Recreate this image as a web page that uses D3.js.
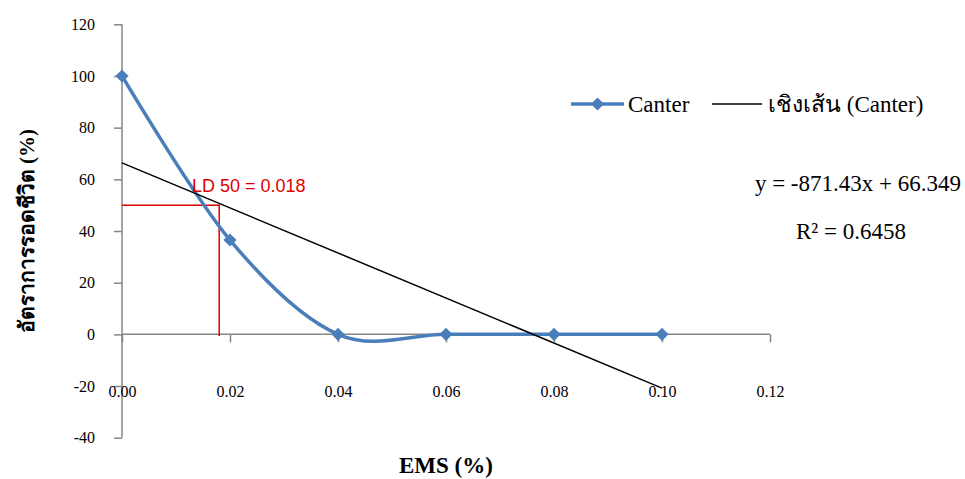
<!DOCTYPE html>
<html><head><meta charset="utf-8">
<script src="https://cdn.jsdelivr.net/npm/d3@7"></script>
<style>
html,body{margin:0;padding:0;background:#fff;}
svg{display:block;}
</style>
</head><body>
<svg id="c" width="965" height="479"></svg>
<script>
const xValues = [0, 0.02, 0.04, 0.06, 0.08, 0.10];
const survival = [100, 36.5, 0, 0, 0, 0];
const xTicks = [0, 0.02, 0.04, 0.06, 0.08, 0.10, 0.12];
const yTicks = [-40, -20, 0, 20, 40, 60, 80, 100, 120];
const slope = -871.43, intercept = 66.349;
const trendRange = [0, 0.10];
const ld50 = 0.018, ldLevel = 50;
const seriesName = "Canter";
const trendName = "เชิงเส้น (Canter)";
const eqText = "y = -871.43x + 66.349";
const r2Text = "R² = 0.6458";
const ldText = "LD 50 = 0.018";
const xTitle = "EMS (%)";
const yTitle = "อัตราการรอดชีวิต (%)";

const svg = d3.select("#c");
const x = d3.scaleLinear().domain([0, 0.12]).range([122, 770]);
const y = d3.scaleLinear().domain([-40, 120]).range([437.7, 24.3]);
const axisColor = "#868686";
const blue = "#4A7EBB";
const serif = "'Liberation Serif','Times New Roman',serif";

// Y axis
const yAxis = svg.append("g").attr("transform", `translate(${x(0)},0)`)
  .call(d3.axisLeft(y).tickValues(yTicks).tickSize(8).tickPadding(19).tickFormat(d => String(d)));
yAxis.select(".domain").attr("stroke", axisColor).attr("stroke-width", 1.5).attr("d", `M0,${y(-40)}V${y(120)}`);
yAxis.selectAll(".tick line").attr("stroke", axisColor).attr("stroke-width", 1.5);
yAxis.selectAll(".tick text").attr("font-family", serif).attr("font-size", 16).attr("fill", "#000");

// X axis at y=0
const xAxis = svg.append("g").attr("transform", `translate(0,${y(0)})`)
  .call(d3.axisBottom(x).tickValues(xTicks).tickSize(8).tickPadding(43).tickFormat(d => d.toFixed(2)));
xAxis.select(".domain").attr("stroke", axisColor).attr("stroke-width", 1.5).attr("d", `M${x(0)},0H${x(0.12)}`);
xAxis.selectAll(".tick line").attr("stroke", axisColor).attr("stroke-width", 1.5);
xAxis.selectAll(".tick text").attr("font-family", serif).attr("font-size", 16).attr("fill", "#000");

// LD50 guide lines
svg.append("path")
  .attr("d", `M${x(0)},${y(ldLevel)}H${x(ld50)}V${y(-0.6)}`)
  .attr("fill", "none").attr("stroke", "#E00000").attr("stroke-width", 1.5);

// Series line (smoothed)
const line = d3.line().x((d, i) => x(xValues[i])).y(d => y(d)).curve(d3.curveCatmullRom.alpha(0));
svg.append("path").datum(survival).attr("d", line)
  .attr("fill", "none").attr("stroke", blue).attr("stroke-width", 3.5).attr("stroke-linejoin", "round");

const diamond = d3.symbol().type(d3.symbolDiamond2).size(110);
svg.selectAll(".pt").data(survival).join("path").attr("class", "pt")
  .attr("transform", (d, i) => `translate(${x(xValues[i])},${y(d)})`)
  .attr("d", diamond).attr("fill", blue);

// Trendline
svg.append("line")
  .attr("x1", x(trendRange[0])).attr("y1", y(slope * trendRange[0] + intercept))
  .attr("x2", x(trendRange[1])).attr("y2", y(slope * trendRange[1] + intercept))
  .attr("stroke", "#000").attr("stroke-width", 1.5);

// LD label
svg.append("text").attr("x", 192).attr("y", 192).text(ldText)
  .attr("font-family", "'Liberation Sans',Arial,sans-serif").attr("font-size", 18).attr("fill", "#E00000");

// Legend
const lg = svg.append("g");
lg.append("line").attr("x1", 571).attr("x2", 624).attr("y1", 104).attr("y2", 104).attr("stroke", blue).attr("stroke-width", 3.5);
lg.append("path").attr("transform", "translate(597.5,104)").attr("d", diamond).attr("fill", blue);
lg.append("text").attr("x", 628).attr("y", 112).text(seriesName).attr("font-family", serif).attr("font-size", 23).attr("fill", "#000");
lg.append("line").attr("x1", 712).attr("x2", 762).attr("y1", 104).attr("y2", 104).attr("stroke", "#000").attr("stroke-width", 1.5);
lg.append("text").attr("x", 768).attr("y", 112).text(trendName).attr("font-family", serif).attr("font-size", 23).attr("fill", "#000");

// Equation
svg.append("text").attr("x", 961).attr("y", 191).attr("text-anchor", "end").text(eqText)
  .attr("font-family", serif).attr("font-size", 23).attr("fill", "#000");
svg.append("text").attr("x", 851).attr("y", 239).attr("text-anchor", "middle").text(r2Text)
  .attr("font-family", serif).attr("font-size", 23).attr("fill", "#000");

// Axis titles
svg.append("text").attr("x", 446).attr("y", 473).attr("text-anchor", "middle").text(xTitle)
  .attr("font-family", serif).attr("font-size", 23).attr("font-weight", "bold").attr("fill", "#000");
svg.append("text").attr("transform", "translate(34,231) rotate(-90)").attr("text-anchor", "middle").text(yTitle)
  .attr("font-family", serif).attr("font-size", 21).attr("font-weight", "bold").attr("fill", "#000");
</script>
</body></html>
